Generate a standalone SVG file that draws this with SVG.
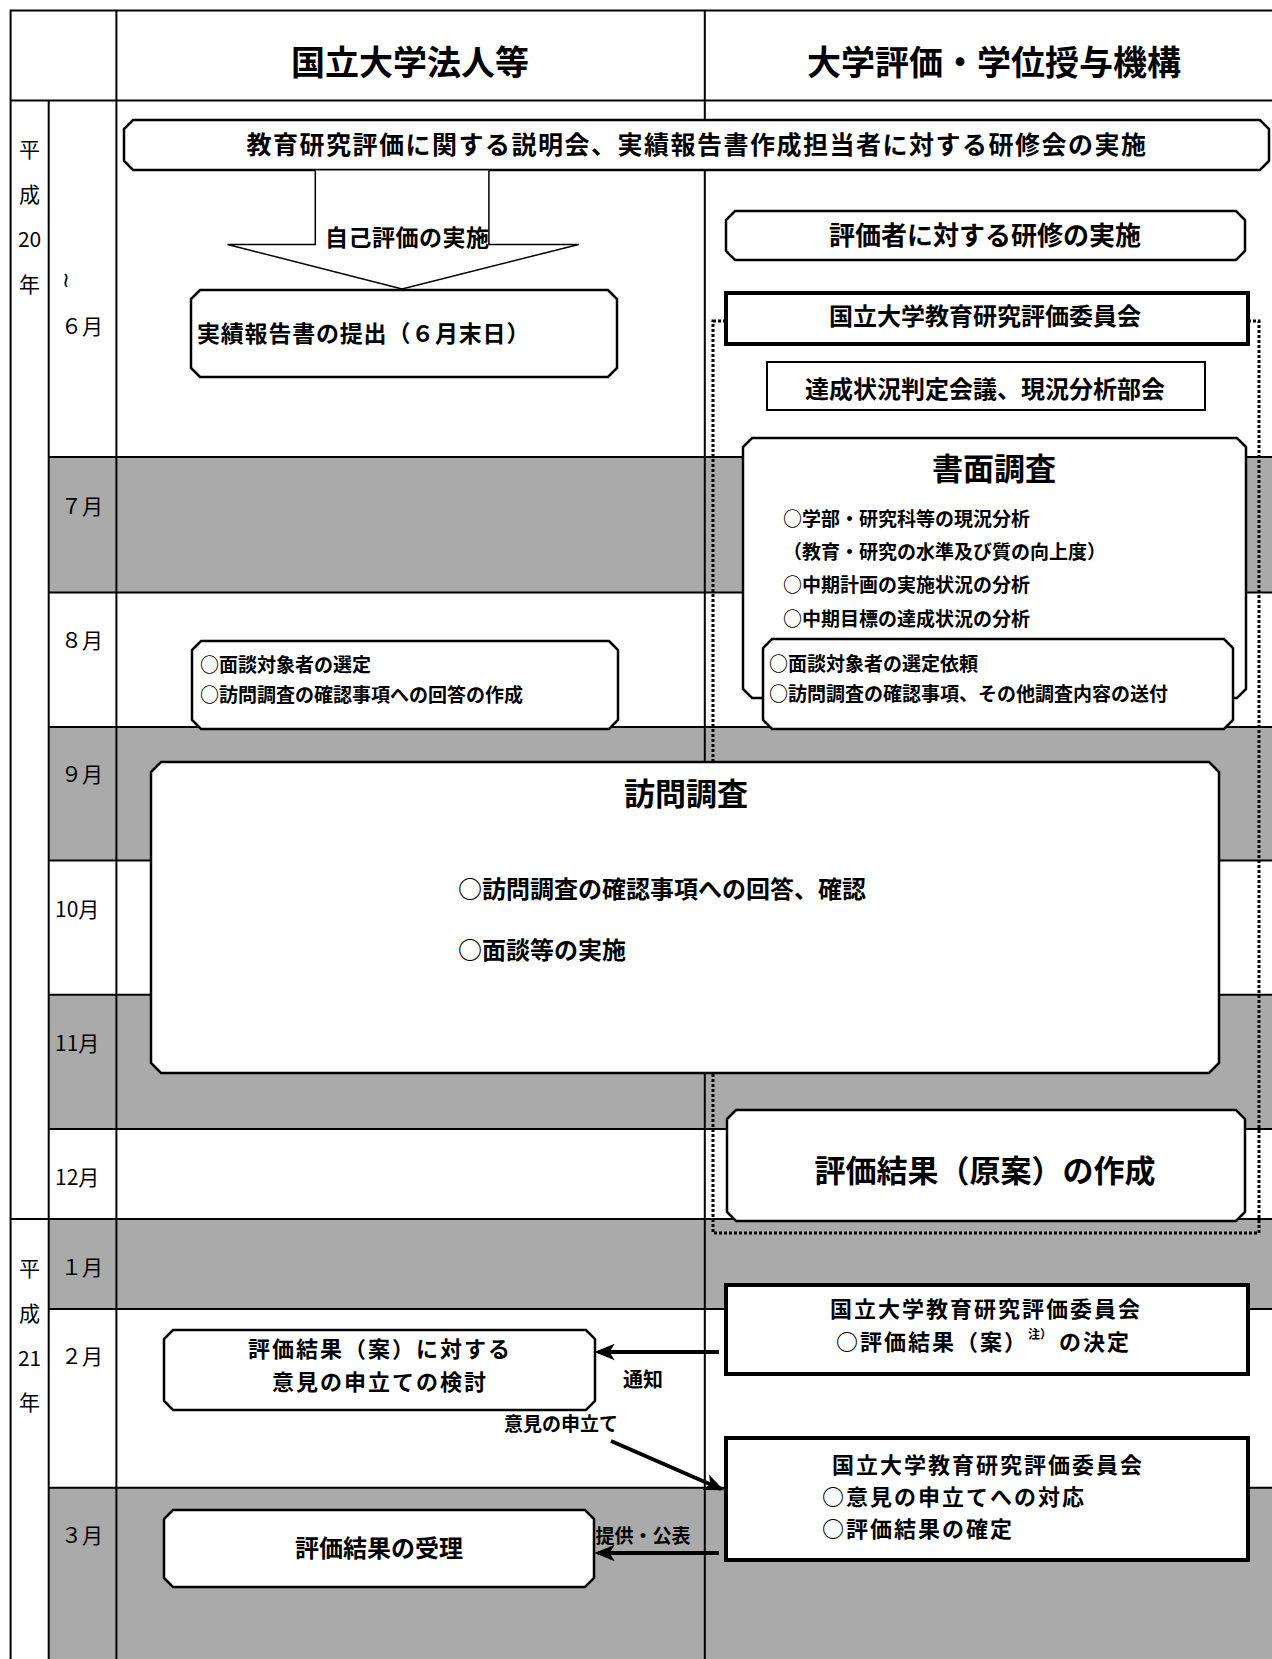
<svg xmlns="http://www.w3.org/2000/svg" width="1272" height="1659" viewBox="0 0 1272 1659">
<style>
text{font-family:"Noto Sans CJK JP","Noto Sans CJK SC",sans-serif;fill:#000;dominant-baseline:central}
.b{font-weight:700}
.m{text-anchor:middle}
.s22{font-size:22px;letter-spacing:2px}
.box{fill:#fff;stroke:#000;stroke-width:2.5}
.thick{fill:#fff;stroke:#000;stroke-width:4}
.grid{stroke:#000;stroke-width:2;fill:none}
.shade{fill:#aaaaaa}
.conn{stroke:#000;stroke-width:4;fill:none}
</style>
<defs>
<marker id="ah" viewBox="0 0 12 10" refX="10" refY="5" markerWidth="5" markerHeight="5" orient="auto" markerUnits="strokeWidth">
<path d="M0,0 L12,5 L0,10 L3,5 Z" fill="#000"/>
</marker>
</defs>
<rect x="0" y="0" width="1272" height="1659" fill="#fff"/>
<g id="table">
<rect class="shade" x="48.7" y="457.1" width="1224" height="135.5"/>
<rect class="shade" x="48.7" y="727" width="1224" height="133.4"/>
<rect class="shade" x="48.7" y="994.7" width="1224" height="134.4"/>
<rect class="shade" x="48.7" y="1219.1" width="1224" height="89.9"/>
<rect class="shade" x="48.7" y="1487.8" width="1224" height="172"/>
<path class="grid" d="M10.6,1659 V10.6 H1272 M10.6,100.5 H1272 M116.4,10.6 V1659 M704.8,10.6 V1659 M48.7,100.5 V1659 M48.7,457.1 H1272 M48.7,592.6 H1272 M48.7,727 H1272 M48.7,860.4 H1272 M48.7,994.7 H1272 M48.7,1129.1 H1272 M10.6,1219.1 H1272 M48.7,1309 H1272 M48.7,1487.8 H1272"/>
<text class="b m" x="410" y="60" font-size="34">国立大学法人等</text>
<text class="b m" x="994" y="60" font-size="34">大学評価・学位授与機構</text>
<g font-size="21">
<text class="m" x="29.6" y="148">平</text>
<text class="m" x="29.6" y="193">成</text>
<text class="m" x="29.6" y="238">20</text>
<text class="m" x="29.6" y="283">年</text>
<text class="m" x="29.6" y="1267">平</text>
<text class="m" x="29.6" y="1312">成</text>
<text class="m" x="29.6" y="1357">21</text>
<text class="m" x="29.6" y="1401">年</text>
<text x="62" y="280" style="font-family:'DejaVu Sans',sans-serif">≀</text>
<text x="61" y="325">６月</text>
<text x="61" y="505">７月</text>
<text x="61" y="639">８月</text>
<text x="61" y="773">９月</text>
<text x="55" y="908">10月</text>
<text x="55" y="1042">11月</text>
<text x="55" y="1176">12月</text>
<text x="61" y="1266">１月</text>
<text x="61" y="1355">２月</text>
<text x="61" y="1534">３月</text>
</g>
</g>
<rect id="frame" x="713" y="321" width="546" height="912" fill="none" stroke="#000" stroke-width="3" stroke-dasharray="3 2"/>
<g id="n-setsumeikai">
<path class="box" d="M133,120 H1260 L1269,129 V161 L1260,170 H133 L124,161 V129 Z"/>
<text class="b m" x="697" y="143" font-size="25" letter-spacing="1.5">教育研究評価に関する説明会、実績報告書作成担当者に対する研修会の実施</text>
</g>
<g id="n-jikohyoka">
<polyline points="315.3,170.4 315.3,244.4 227.5,244.4 402,289 578.8,244.4 488.9,244.4 488.9,170.4" fill="#fff" stroke="#000" stroke-width="1.5"/>
<text class="b" x="325" y="236" font-size="23" letter-spacing="0.5">自己評価の実施</text>
</g>
<g id="n-teishutsu">
<path class="box" d="M200,290 H608 L617,299 V368 L608,377 H200 L191,368 V299 Z"/>
<text class="b" x="197" y="332" font-size="23" letter-spacing="0.8">実績報告書の提出（６月末日）</text>
</g>
<g id="n-mendan">
<path class="box" d="M201,641 H609 L618,650 V720 L609,729 H201 L192,720 V650 Z"/>
<text class="b" x="200" y="663" font-size="19">○面談対象者の選定</text>
<text class="b" x="200" y="693" font-size="19">○訪問調査の確認事項への回答の作成</text>
</g>
<g id="n-kenshu">
<path class="box" d="M735,211 H1236 L1245,220 V251 L1236,260 H735 L726,251 V220 Z"/>
<text class="b m" x="985" y="233" font-size="26">評価者に対する研修の実施</text>
</g>
<g id="n-iinkai1">
<rect class="thick" x="726" y="293" width="522" height="51"/>
<text class="b m" x="985" y="314" font-size="24">国立大学教育研究評価委員会</text>
</g>
<g id="n-bukai">
<rect x="767" y="362" width="438" height="48" fill="#fff" stroke="#000" stroke-width="2"/>
<text class="b m" x="985" y="387" font-size="24">達成状況判定会議、現況分析部会</text>
</g>
<g id="n-shomen">
<path class="box" d="M752,438 H1237 L1246,447 V689 L1237,698 H752 L743,689 V447 Z"/>
<text class="b m" x="994" y="466" font-size="31">書面調査</text>
<text class="b" x="783" y="517.5" font-size="19">○学部・研究科等の現況分析</text>
<text class="b" x="783" y="550" font-size="19">（教育・研究の水準及び質の向上度）</text>
<text class="b" x="783" y="583" font-size="19">○中期計画の実施状況の分析</text>
<text class="b" x="783" y="617" font-size="19">○中期目標の達成状況の分析</text>
</g>
<g id="n-irai">
<path class="box" d="M772,639 H1224 L1233,648 V720 L1224,729 H772 L763,720 V648 Z"/>
<text class="b" x="769" y="662" font-size="19">○面談対象者の選定依頼</text>
<text class="b" x="769" y="692" font-size="19">○訪問調査の確認事項、その他調査内容の送付</text>
</g>
<g id="n-homon">
<path class="box" d="M161,762 H1209 L1219,772 V1063 L1209,1073 H161 L151,1063 V772 Z"/>
<text class="b m" x="686" y="791" font-size="31">訪問調査</text>
<text class="b" x="458" y="887" font-size="24">○訪問調査の確認事項への回答、確認</text>
<text class="b" x="458" y="948" font-size="24">○面談等の実施</text>
</g>
<g id="n-gen-an">
<path class="box" d="M736,1110 H1236 L1245,1119 V1212 L1236,1221 H736 L727,1212 V1119 Z"/>
<text class="b m" x="985" y="1168" font-size="31">評価結果（原案）の作成</text>
</g>
<g id="n-iinkai2">
<rect class="thick" x="726" y="1285" width="522" height="89"/>
<text class="b m s22" x="986" y="1307">国立大学教育研究評価委員会</text>
<text class="b s22" x="836" y="1340">○評価結果（案）<tspan style="font-size:12px;letter-spacing:0" dy="-7">注）</tspan><tspan dy="7"> の決定</tspan></text>
</g>
<g id="n-iinkai3">
<rect class="thick" x="726" y="1438" width="522" height="122"/>
<text class="b m s22" x="988" y="1463">国立大学教育研究評価委員会</text>
<text class="b s22" x="822" y="1495">○意見の申立てへの対応</text>
<text class="b s22" x="822" y="1527">○評価結果の確定</text>
</g>
<g id="n-kento">
<path class="box" d="M173,1330 H586 L595,1339 V1401 L586,1410 H173 L164,1401 V1339 Z"/>
<text class="b m s22" x="380" y="1347">評価結果（案）に対する</text>
<text class="b m s22" x="380" y="1380">意見の申立ての検討</text>
</g>
<g id="n-juri">
<path class="box" d="M173,1510 H585 L594,1519 V1578 L585,1587 H173 L164,1578 V1519 Z"/>
<text class="b m" x="379" y="1546" font-size="24">評価結果の受理</text>
</g>
<g id="connectors">
<line class="conn" x1="719" y1="1352" x2="598" y2="1352" marker-end="url(#ah)"/>
<line class="conn" x1="611" y1="1441" x2="721" y2="1489" marker-end="url(#ah)"/>
<line class="conn" x1="719" y1="1553" x2="598" y2="1553" marker-end="url(#ah)"/>
<text class="b m" x="643" y="1378" font-size="20">通知</text>
<text class="b m" x="561" y="1422" font-size="19">意見の申立て</text>
<text class="b m" x="643" y="1534" font-size="19">提供・公表</text>
</g>
</svg>
